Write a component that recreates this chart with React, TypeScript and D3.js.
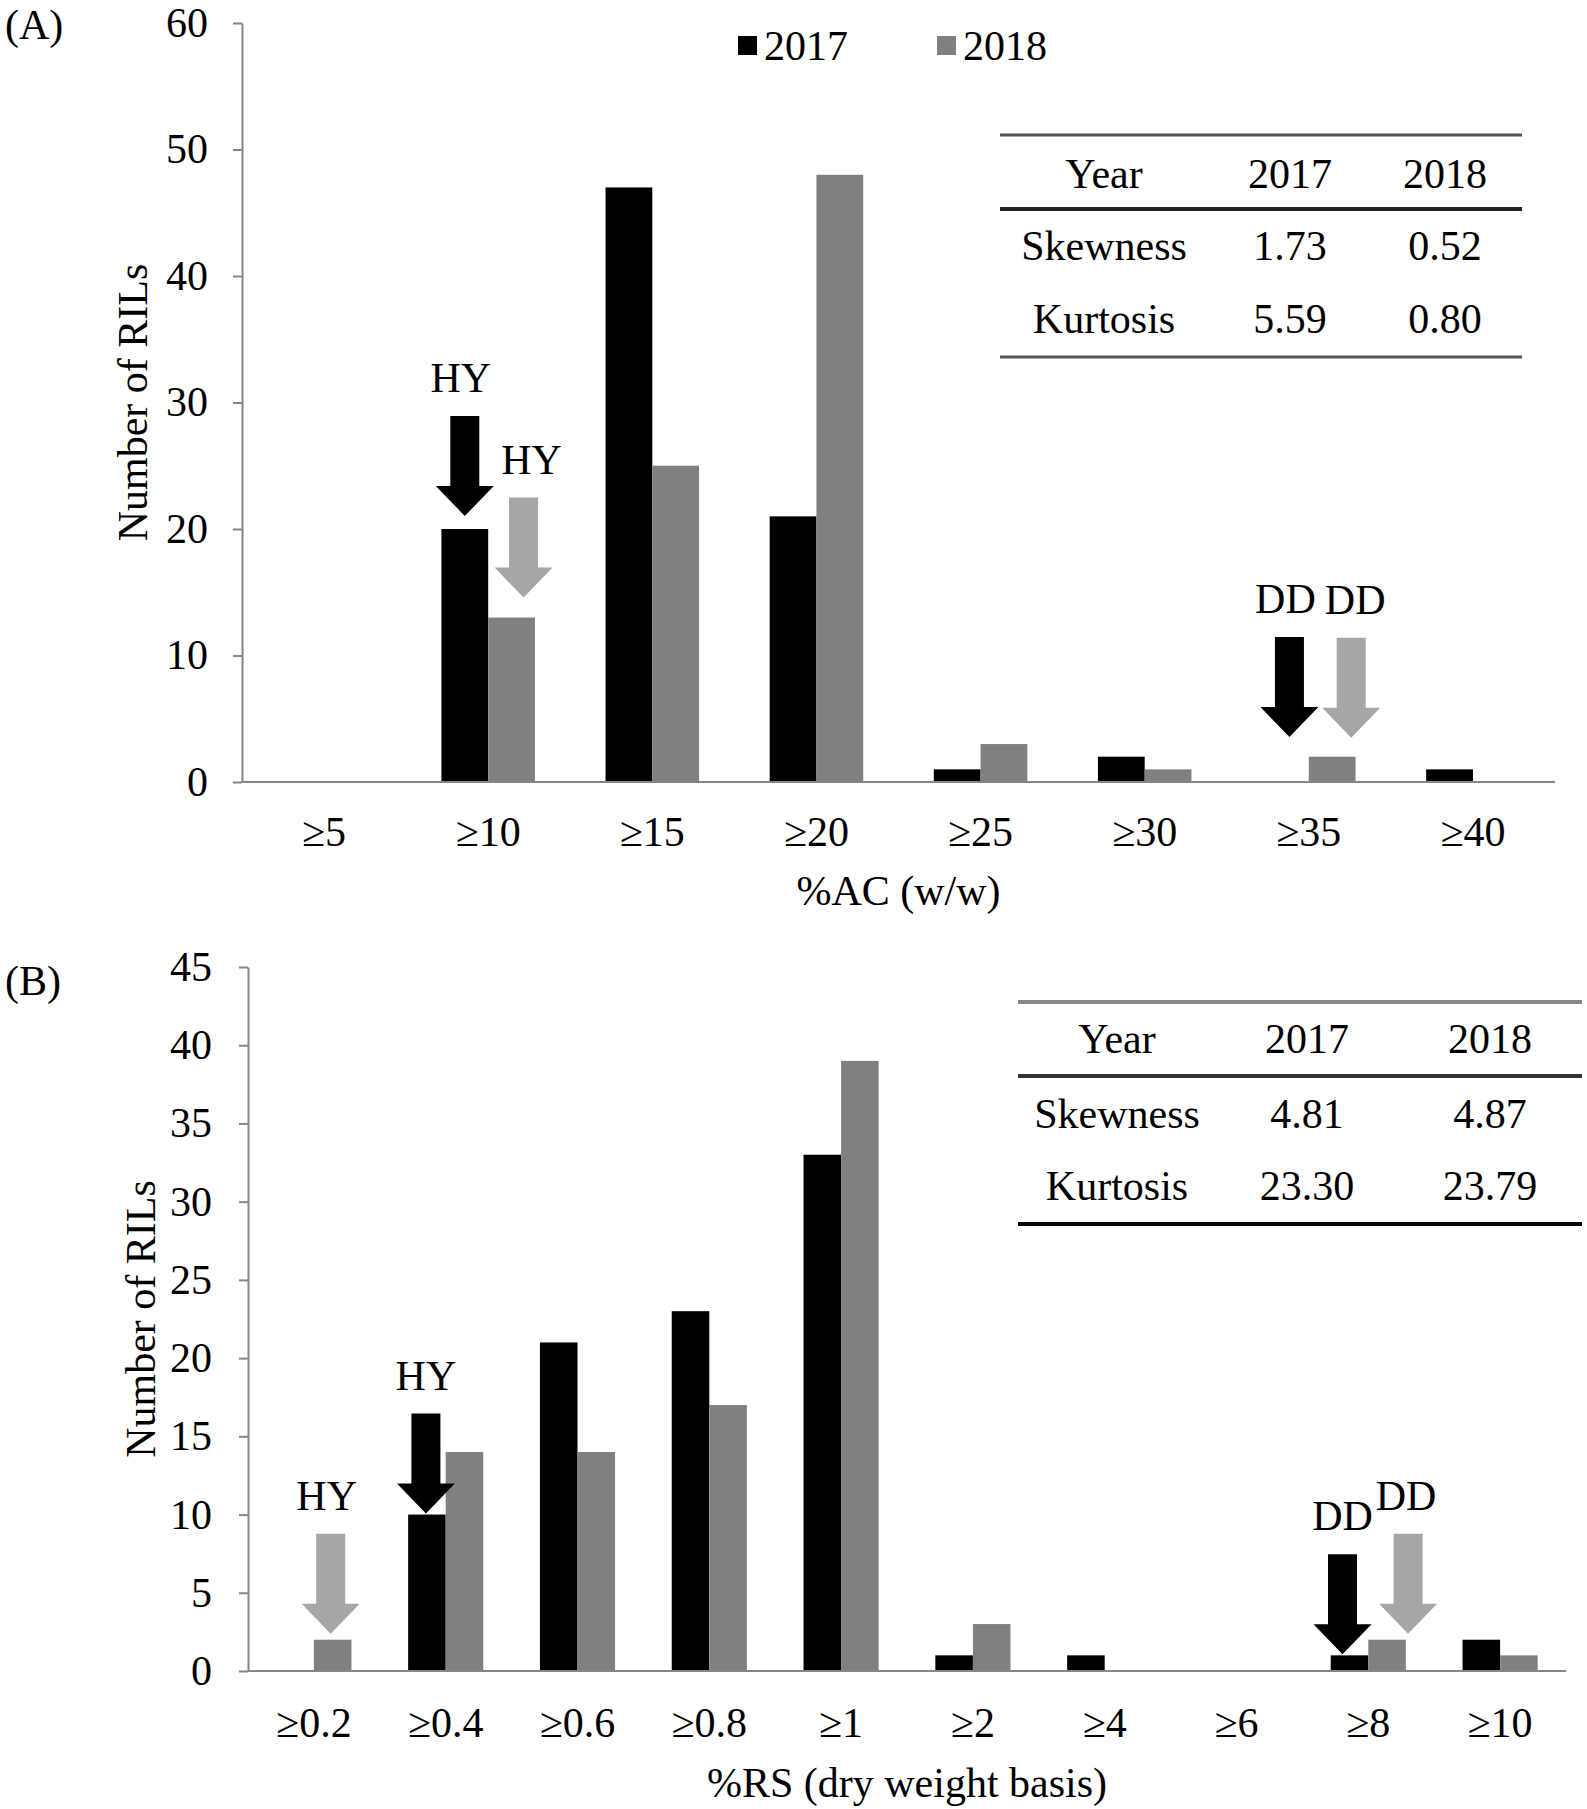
import React, { useRef, useEffect } from 'react';
import * as d3 from 'd3';

const FONT = '"Liberation Serif", "Times New Roman", Times, serif';
const BAR_COLORS = ['#000000', '#808080'];
const ARROW_COLORS = ['#000000', '#a6a6a6'];
const AXIS_COLOR = '#868686';

const seriesNames = ['2017', '2018'];

// (A) apparent amylose content classes
const acCategories = ['≥5', '≥10', '≥15', '≥20', '≥25', '≥30', '≥35', '≥40'];
const ac2017 = [0, 20, 47, 21, 1, 2, 0, 1];
const ac2018 = [0, 13, 25, 48, 3, 1, 2, 0];
const acTicks = [0, 10, 20, 30, 40, 50, 60];
const acStats = [
    ['Year', '2017', '2018'],
    ['Skewness', '1.73', '0.52'],
    ['Kurtosis', '5.59', '0.80'],
];
const acParents = [
    { label: 'HY', category: '≥10', series: 0 },
    { label: 'HY', category: '≥10', series: 1 },
    { label: 'DD', category: '≥35', series: 0 },
    { label: 'DD', category: '≥35', series: 1 },
];

// (B) resistant starch classes
const rsCategories = ['≥0.2', '≥0.4', '≥0.6', '≥0.8', '≥1', '≥2', '≥4', '≥6', '≥8', '≥10'];
const rs2017 = [0, 10, 21, 23, 33, 1, 1, 0, 1, 2];
const rs2018 = [2, 14, 14, 17, 39, 3, 0, 0, 2, 1];
const rsTicks = [0, 5, 10, 15, 20, 25, 30, 35, 40, 45];
const rsStats = [
    ['Year', '2017', '2018'],
    ['Skewness', '4.81', '4.87'],
    ['Kurtosis', '23.30', '23.79'],
];
const rsParents = [
    { label: 'HY', category: '≥0.2', series: 1 },
    { label: 'HY', category: '≥0.4', series: 0 },
    { label: 'DD', category: '≥8', series: 0 },
    { label: 'DD', category: '≥8', series: 1 },
];

type Parent = { label: string; category: string; series: number };

type Panel = {
    tag: string;
    categories: string[];
    values: number[][];
    ticks: number[];
    stats: string[][];
    parents: Parent[];
    xTitle: string;
    layout: any;
};

const panels: Panel[] = [
    {
        tag: '(A)',
        categories: acCategories,
        values: [ac2017, ac2018],
        ticks: acTicks,
        stats: acStats,
        parents: acParents,
        xTitle: '%AC (w/w)',
        layout: {
            tagY: 39,
            left: 242, right: 1555, top: 23, bottom: 782,
            tickPadding: 25,
            xLabelOffset: 64, xTitleOffset: 123, yTitleX: 147,
            // arrow nudges: horizontal shift, gap above the bar top, label shift
            nudges: [
                { dx: 0, gap: 13, lx: -4 },
                { dx: 12, gap: 20, lx: 8 },
                { dx: 4, gap: 45, lx: -4 },
                { dx: 19, gap: 19, lx: 4 },
            ],
            table: {
                x0: 1000, x1: 1522,
                lines: [
                    { y: 135, w: 3, c: '#555555' },
                    { y: 209, w: 4, c: '#222222' },
                    { y: 357, w: 3, c: '#555555' },
                ],
                rows: [188, 260, 333],
                cols: [1104, 1290, 1445],
            },
        },
    },
    {
        tag: '(B)',
        categories: rsCategories,
        values: [rs2017, rs2018],
        ticks: rsTicks,
        stats: rsStats,
        parents: rsParents,
        xTitle: '%RS (dry weight basis)',
        layout: {
            tagY: 995,
            left: 248, right: 1566, top: 967, bottom: 1671,
            tickPadding: 27,
            xLabelOffset: 66, xTitleOffset: 126, yTitleX: 155,
            nudges: [
                { dx: -2, gap: 6, lx: -4 },
                { dx: -1, gap: 1, lx: 0 },
                { dx: -7, gap: 1, lx: 0 },
                { dx: 21, gap: 6, lx: -2 },
            ],
            table: {
                x0: 1018, x1: 1582,
                lines: [
                    { y: 1002, w: 4, c: '#888888' },
                    { y: 1076, w: 4, c: '#333333' },
                    { y: 1224, w: 4, c: '#000000' },
                ],
                rows: [1053, 1128, 1200],
                cols: [1117, 1307, 1490],
            },
        },
    },
];

const App = () => {
    const svgRef = useRef<SVGSVGElement>(null);

    useEffect(() => {
        const svg = d3.select(svgRef.current);
        svg.selectAll('*').remove();

        svg.append('rect').attr('width', 1587).attr('height', 1809).attr('fill', '#fff');

        panels.forEach(p => drawPanel(svg, p));

        // legend (top panel only)
        const legend = svg.append('g').attr('font-family', FONT).attr('font-size', 42);
        const legendX = [738, 937];
        seriesNames.forEach((name, i) => {
            legend.append('rect')
                .attr('x', legendX[i]).attr('y', 36)
                .attr('width', 19).attr('height', 19)
                .attr('fill', BAR_COLORS[i]);
            legend.append('text')
                .attr('x', legendX[i] + 26).attr('y', 60)
                .text(name);
        });
    }, []);

    const drawPanel = (svg: any, p: Panel) => {
        const L = p.layout;
        const g = svg.append('g').attr('font-family', FONT).attr('fill', '#000');

        const x = d3.scaleBand<string>()
            .domain(p.categories)
            .range([L.left, L.right])
            .paddingInner(0.43)
            .paddingOuter(0.215);

        const xs = d3.scaleBand<string>()
            .domain(seriesNames)
            .range([0, x.bandwidth()]);

        const y = d3.scaleLinear()
            .domain([0, p.ticks[p.ticks.length - 1]])
            .range([L.bottom, L.top]);

        // bars
        p.values.forEach((vals, si) => {
            g.append('g')
                .attr('fill', BAR_COLORS[si])
                .selectAll('rect')
                .data(vals)
                .enter().append('rect')
                .attr('x', (_d: number, i: number) => (x(p.categories[i]) as number) + (xs(seriesNames[si]) as number))
                .attr('width', xs.bandwidth())
                .attr('y', (d: number) => y(d))
                .attr('height', (d: number) => y(0) - y(d));
        });

        // y axis
        const yAxis = g.append('g')
            .attr('transform', `translate(${L.left},0)`)
            .call(d3.axisLeft(y).tickValues(p.ticks).tickSize(9).tickSizeOuter(0).tickPadding(L.tickPadding));
        yAxis.attr('font-family', FONT).attr('font-size', 42);
        yAxis.selectAll('path, line').attr('stroke', AXIS_COLOR).attr('stroke-width', 2);
        yAxis.selectAll('text').attr('fill', '#000');

        // x axis
        const xAxis = g.append('g')
            .attr('transform', `translate(0,${L.bottom})`)
            .call(d3.axisBottom(x).tickSize(0).tickSizeOuter(0));
        xAxis.attr('font-family', FONT).attr('font-size', 42);
        xAxis.select('path').attr('stroke', AXIS_COLOR).attr('stroke-width', 2)
            .attr('d', `M${L.left},0H${L.right}`);
        xAxis.selectAll('text').attr('fill', '#000').attr('y', L.xLabelOffset).attr('dy', 0);

        // axis titles
        g.append('text')
            .attr('x', (L.left + L.right) / 2)
            .attr('y', L.bottom + L.xTitleOffset)
            .attr('text-anchor', 'middle')
            .attr('font-size', 42)
            .text(p.xTitle);

        g.append('text')
            .attr('transform', `translate(${L.yTitleX},${(L.top + L.bottom) / 2}) rotate(-90)`)
            .attr('text-anchor', 'middle')
            .attr('font-size', 42)
            .text('Number of RILs');

        // panel tag
        g.append('text')
            .attr('x', 5).attr('y', L.tagY)
            .attr('font-size', 42)
            .text(p.tag);

        // parent markers
        p.parents.forEach((m, i) => {
            const n = L.nudges[i];
            const ci = p.categories.indexOf(m.category);
            const cx = (x(m.category) as number) + (xs(seriesNames[m.series]) as number) + xs.bandwidth() / 2 + n.dx;
            const tip = y(p.values[m.series][ci]) - n.gap;
            const pts: [number, number][] = [
                [cx - 14.5, tip - 100], [cx + 14.5, tip - 100], [cx + 14.5, tip - 30],
                [cx + 29, tip - 30], [cx, tip], [cx - 29, tip - 30], [cx - 14.5, tip - 30],
            ];
            g.append('path')
                .attr('d', (d3.line() as any)(pts) + 'Z')
                .attr('fill', ARROW_COLORS[m.series]);
            g.append('text')
                .attr('x', cx + n.lx).attr('y', tip - 124)
                .attr('text-anchor', 'middle')
                .attr('font-size', 42)
                .text(m.label);
        });

        // statistics table
        const T = L.table;
        T.lines.forEach((ln: any) => {
            g.append('line')
                .attr('x1', T.x0).attr('x2', T.x1)
                .attr('y1', ln.y).attr('y2', ln.y)
                .attr('stroke', ln.c).attr('stroke-width', ln.w);
        });
        p.stats.forEach((row, ri) => {
            row.forEach((cell, ci) => {
                g.append('text')
                    .attr('x', T.cols[ci]).attr('y', T.rows[ri])
                    .attr('text-anchor', 'middle')
                    .attr('font-size', 42)
                    .text(cell);
            });
        });
    };

    return (
        <svg ref={svgRef} width={1587} height={1809}
            style={{ position: 'absolute', left: 0, top: 0 }}></svg>
    );
};

export default App;
